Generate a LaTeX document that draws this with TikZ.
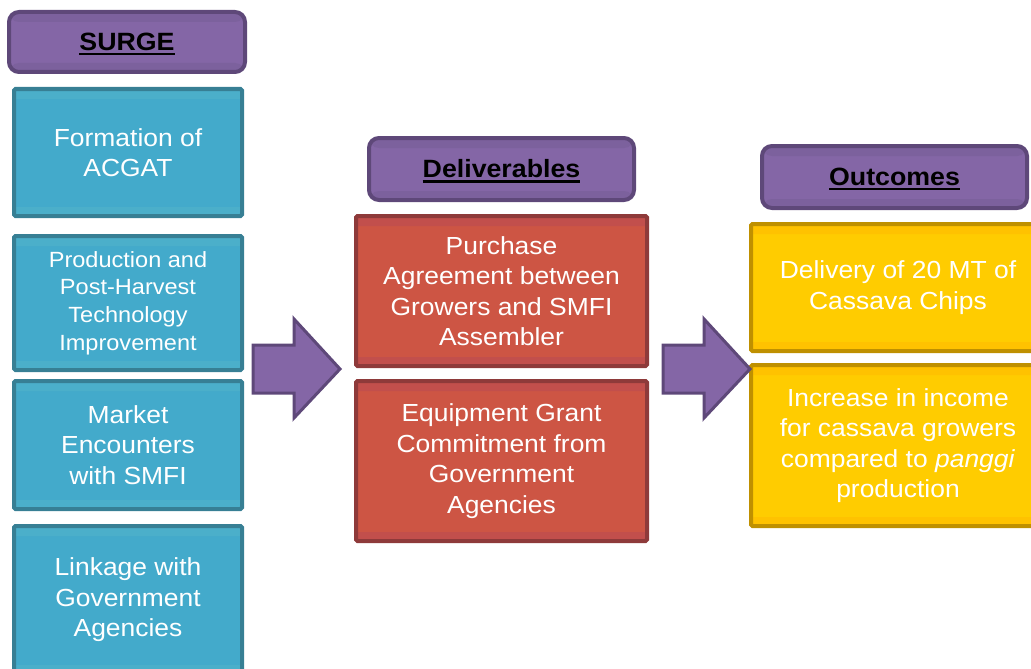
\documentclass[tikz,border=0pt]{standalone}
\usepackage{fontspec}
\setmainfont{Liberation Sans}[FakeStretch=1.07]
\newcommand\hul[1]{\setbox0\hbox{#1}\rlap{\rule[-5pt]{\wd0}{2.3pt}}\box0}
\definecolor{purfill}{HTML}{8466A6}
\definecolor{purband}{HTML}{7C619D}
\definecolor{purline}{HTML}{5E4879}
\definecolor{bluefill}{HTML}{43AACB}
\definecolor{blueband}{HTML}{4BAFCA}
\definecolor{blueline}{HTML}{377F94}
\definecolor{redfill}{HTML}{CD5544}
\definecolor{redband}{HTML}{C24F4C}
\definecolor{redline}{HTML}{8E3A3A}
\definecolor{yelfill}{HTML}{FFCC00}
\definecolor{yelband}{HTML}{FFC200}
\definecolor{yelline}{HTML}{BF9000}
\begin{document}
\begin{tikzpicture}[x=1pt,y=-1pt,
  band/.style={path picture={
     \fill[#1] (path picture bounding box.north west) rectangle ([yshift=-10pt]path picture bounding box.north east);
     \fill[#1] (path picture bounding box.south west) rectangle ([yshift=9pt]path picture bounding box.south east);}},
  header/.style={draw=purline, fill=purfill, band=purband, line width=4pt, rounded corners=10pt,
     minimum width=265pt, minimum height=62pt, inner sep=0pt,
     font=\fontsize{25}{30}\selectfont\bfseries, text=black},
  hlabel/.style={inner sep=0pt, font=\fontsize{25}{30}\selectfont\bfseries, text=black},
  bluebox/.style={draw=blueline, fill=bluefill, band=blueband, line width=4pt, rounded corners=1.5pt,
     minimum width=228pt, inner sep=0pt, align=center, text=white,
     font=\fontsize{24.7}{30.5}\selectfont},
  redbox/.style={draw=redline, fill=redfill, band=redband, line width=4pt, rounded corners=1.5pt,
     minimum width=291pt, inner sep=0pt, align=center, text=white,
     font=\fontsize{24.7}{30.5}\selectfont},
  yelbox/.style={draw=yelline, fill=yelfill, band=yelband, line width=4pt, rounded corners=1.5pt,
     minimum width=294pt, inner sep=0pt, align=center, text=white,
     font=\fontsize{24.7}{30.5}\selectfont},
  blockarrow/.style={draw=purline, fill=purfill, line width=3pt, line join=miter}
]
\useasboundingbox (0,0) rectangle (1031,669);
\clip (0,0) rectangle (1031,669);

% headers
\node[header, minimum width=236pt, minimum height=60pt] (surge) at (127,42) {};
\node[hlabel] (surget) at ([yshift=-2pt]surge.center) {\hul{SURGE}};
\node[header] (deliv) at (501.5,169) {};
\node[hlabel] (delivt) at ([yshift=-2pt]deliv.center) {\hul{Deliverables}};
\node[header] (outc) at (894.5,177) {};
\node[hlabel] (outct) at ([yshift=-2pt]outc.center) {\hul{Outcomes}};

% SURGE column
\node[bluebox, minimum height=127pt] (b1) at (128,152.5) {Formation of\\ACGAT};
\node[bluebox, minimum height=134pt, font=\fontsize{22}{27.7}\selectfont] (b2) at (128,303)
  {Production and\\Post-Harvest\\Technology\\Improvement};
\node[bluebox, minimum height=128pt] (b3) at (128,445) {Market\\Encounters\\with SMFI};
\node[bluebox, minimum height=148pt] (b4) at (128,600) {Linkage with\\Government\\Agencies};

% Deliverables column
\node[redbox, minimum height=150pt] (r1) at (501.5,291)
  {Purchase\\Agreement between\\Growers and SMFI\\Assembler};
\node[redbox, minimum height=160pt] (r2) at (501.5,461)
  {Equipment Grant\\Commitment from\\Government\\Agencies};

% Outcomes column
\node[yelbox, minimum height=127pt] (y1) at (898,287.5) {Delivery of 20 MT of\\Cassava Chips};
\node[yelbox, minimum height=161pt] (y2) at (898,445.5)
  {Increase in income\\for cassava growers\\compared to \textit{panggi}\\production};

% block arrows
\draw[blockarrow] (253,345) -- (294,345) -- (294,319) -- (340,369) -- (294,418) -- (294,393) -- (253,393) -- cycle;
\draw[blockarrow] (663,345) -- (704,345) -- (704,319) -- (750,369) -- (704,418) -- (704,393) -- (663,393) -- cycle;
\end{tikzpicture}
\end{document}
